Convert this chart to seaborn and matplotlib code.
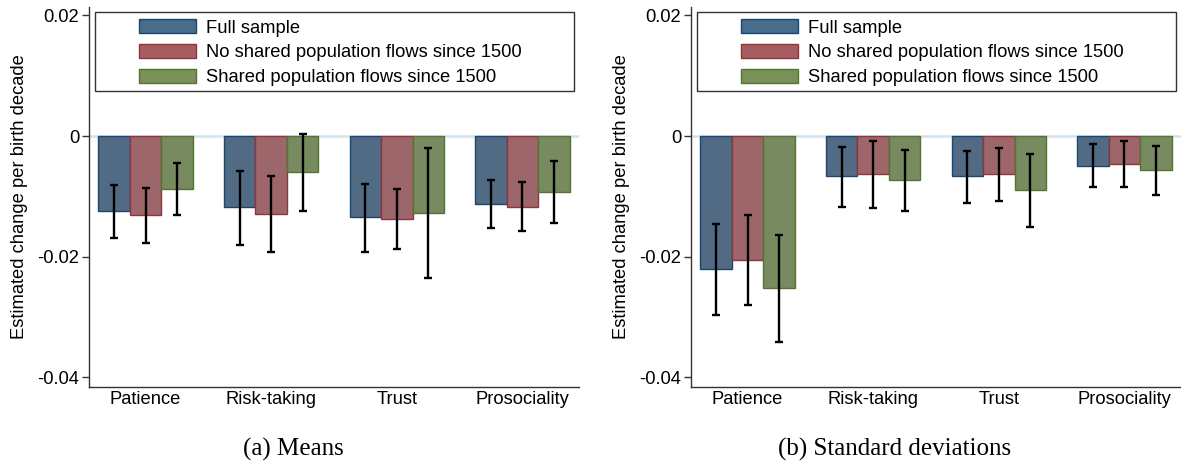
import matplotlib
matplotlib.use('Agg')
import matplotlib.pyplot as plt
from matplotlib.patches import Patch, Rectangle
import pandas as pd
import seaborn as sns

# categories and series
categories = ['Patience', 'Risk-taking', 'Trust', 'Prosociality']
series = ['Full sample', 'No shared population flows since 1500',
          'Shared population flows since 1500']

# (a) means: point estimates and CI bounds
means_full = [-0.0124, -0.0118, -0.0135, -0.0113]
means_noshared = [-0.0131, -0.0130, -0.01375, -0.0117]
means_shared = [-0.0088, -0.0060, -0.0127, -0.0092]
means_full_lo = [-0.0169, -0.0180, -0.0192, -0.0153]
means_full_hi = [-0.0081, -0.0058, -0.0080, -0.00735]
means_noshared_lo = [-0.0178, -0.0193, -0.0188, -0.0158]
means_noshared_hi = [-0.0086, -0.0066, -0.0088, -0.0077]
means_shared_lo = [-0.0131, -0.0124, -0.0236, -0.0144]
means_shared_hi = [-0.0045, 0.0003, -0.0020, -0.0041]

# (b) standard deviations
sd_full = [-0.0220, -0.0067, -0.0067, -0.0049]
sd_noshared = [-0.0206, -0.00635, -0.00635, -0.0046]
sd_shared = [-0.0252, -0.00735, -0.0090, -0.0057]
sd_full_lo = [-0.0296, -0.0117, -0.01105, -0.0084]
sd_full_hi = [-0.0145, -0.0018, -0.0025, -0.0013]
sd_noshared_lo = [-0.0280, -0.0120, -0.0107, -0.0084]
sd_noshared_hi = [-0.0131, -0.0009, -0.0020, -0.0009]
sd_shared_lo = [-0.0341, -0.0124, -0.0150, -0.0098]
sd_shared_hi = [-0.0164, -0.0023, -0.0030, -0.0017]

fill_colors = ['#486C8C', '#A65D62', '#779159']
edge_colors = ['#1A476F', '#90353B', '#55752F']


def make_df(vals, los, his):
    rows = []
    for s, v, lo, hi in zip(series, vals, los, his):
        for c, a, b, d in zip(categories, v, lo, hi):
            rows.append({'trait': c, 'group': s, 'est': a, 'lo': b, 'hi': d})
    return pd.DataFrame(rows)


df_means = make_df([means_full, means_noshared, means_shared],
                   [means_full_lo, means_noshared_lo, means_shared_lo],
                   [means_full_hi, means_noshared_hi, means_shared_hi])
df_sd = make_df([sd_full, sd_noshared, sd_shared],
                [sd_full_lo, sd_noshared_lo, sd_shared_lo],
                [sd_full_hi, sd_noshared_hi, sd_shared_hi])

sns.set_style('ticks')
plt.rcParams['font.family'] = ['Liberation Sans', 'DejaVu Sans']
plt.rcParams['text.color'] = 'black'
plt.rcParams['axes.labelcolor'] = 'black'
plt.rcParams['xtick.color'] = 'black'
plt.rcParams['ytick.color'] = 'black'

fig = plt.figure(figsize=(11.81, 4.71), dpi=100)
ax1 = fig.add_axes([0.07536, 0.17834, 0.41490, 0.80743])
ax2 = fig.add_axes([0.58510, 0.17834, 0.41490, 0.80743])


def draw_panel(ax, df, caption, cap_x):
    ax.axhline(0, color='#D3E1EB', lw=1.8, zorder=0)
    sns.barplot(data=df, x='trait', y='est', hue='group', order=categories,
                hue_order=series, palette=fill_colors, width=0.75,
                errorbar=None, legend=False, ax=ax, zorder=2)
    # edges and error bars per series
    for i, s in enumerate(series):
        cont = ax.containers[i]
        sub = df[df['group'] == s].set_index('trait').loc[categories]
        xs = []
        for bar in cont:
            bar.set_edgecolor(edge_colors[i])
            bar.set_linewidth(1.0)
            bar.set_alpha(1)
            xs.append(bar.get_x() + bar.get_width() / 2)
        mid = (sub['lo'].values + sub['hi'].values) / 2
        half = (sub['hi'].values - sub['lo'].values) / 2
        ax.errorbar(xs, mid, yerr=half, fmt='none', ecolor='black',
                    elinewidth=1.7, capsize=3, capthick=1.7, zorder=3)

    ax.set_xlim(-0.45, 3.45)
    ax.set_ylim(-0.0416, 0.02144)
    ax.set_yticks([0.02, 0, -0.02, -0.04])
    ax.set_yticklabels(['0.02', '0', '-0.02', '-0.04'])
    ax.set_xlabel('')
    ax.set_ylabel('Estimated change per birth decade', fontsize=13.2, labelpad=7)
    ax.tick_params(axis='y', labelsize=13.2, length=5, width=1, pad=2,
                   color='#333333')
    ax.tick_params(axis='x', labelsize=13.2, length=0, pad=3)
    for sp in ['top', 'right']:
        ax.spines[sp].set_visible(False)
    for sp in ['left', 'bottom']:
        ax.spines[sp].set_color('#333333')
        ax.spines[sp].set_linewidth(1.0)

    # legend with a separate frame box
    frame = Rectangle((0.0116, 0.779), 0.978, 0.208, transform=ax.transAxes,
                      fill=False, edgecolor='#333333', lw=1.0, zorder=5)
    ax.add_patch(frame)
    handles = [Patch(facecolor=f, edgecolor=e, lw=1.0)
               for f, e in zip(fill_colors, edge_colors)]
    ax.legend(handles, series, loc='center', bbox_to_anchor=(0.492, 0.879),
              frameon=False, fontsize=13.2, handlelength=3.1,
              handleheight=0.82, handletextpad=0.55, labelspacing=0.4,
              borderpad=0)

    fig.text(cap_x, 0.033, caption, ha='center', va='baseline',
             fontsize=18, family=['Liberation Serif', 'DejaVu Serif'])


draw_panel(ax1, df_means, '(a) Means', 293 / 1181)
draw_panel(ax2, df_sd, '(b) Standard deviations', 895 / 1181)

fig.savefig('out.png', dpi=100)
